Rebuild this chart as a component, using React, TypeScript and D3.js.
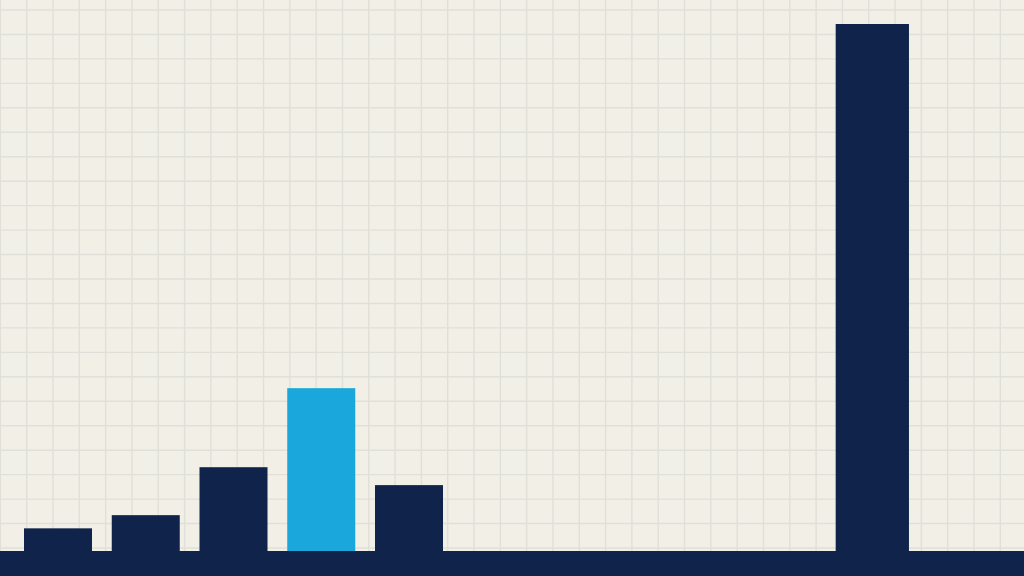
import React from "react";
import * as d3 from "d3";

// Data
const categories = ["P1", "P2", "P3", "P4", "P5", "P10"];
const periods = [0, 1, 2, 3, 4, 9.28];
const values = [4.3, 6.8, 15.9, 30.9, 12.5, 100];
const highlighted = ["P4"];

const W = 1024;
const H = 576;
const BASE = 551;

const NAVY = "#0f234b";
const BLUE = "#1aa8dc";
const PAPER = "#f2efe6";
const GRID = "#dfe0d9";

export default function App() {
  const step = 87.75;
  const x = d3.scaleLinear().domain([0, 1]).range([58, 58 + step]);
  const y = d3.scaleLinear().domain([0, 100]).range([BASE, 24]);

  const gx = d3.scaleLinear().domain([0, 37]).range([26.7, 1000.3]);
  const gy = d3.scaleLinear().domain([0, 22]).range([10, 548]);
  const vLines = d3.range(-1, 39).map((k) => gx(k)).filter((v) => v >= 0 && v <= W);
  const hLines = d3.range(-1, 24).map((k) => gy(k)).filter((v) => v >= 0 && v <= H);

  return (
    <div style={{ position: "absolute", left: 0, top: 0, width: W, height: H, overflow: "hidden" }}>
      <svg width={W} height={H} style={{ display: "block" }}>
        <rect x={0} y={0} width={W} height={H} fill={PAPER} />
        <g stroke={GRID} strokeWidth={1.4}>
          {vLines.map((v, i) => (
            <line key={"v" + i} x1={v} x2={v} y1={0} y2={H} />
          ))}
          {hLines.map((v, i) => (
            <line key={"h" + i} x1={0} x2={W} y1={v} y2={v} />
          ))}
        </g>
        <g>
          {categories.map((c, i) => {
            const last = i === categories.length - 1;
            const bw = last ? step * 0.835 : step * 0.775;
            const cx = x(periods[i]);
            return (
              <rect
                key={c}
                x={cx - bw / 2}
                y={y(values[i])}
                width={bw}
                height={y(0) - y(values[i]) + 1}
                fill={highlighted.includes(c) ? BLUE : NAVY}
              />
            );
          })}
        </g>
        <rect x={0} y={BASE} width={W} height={H - BASE} fill={NAVY} />
      </svg>
    </div>
  );
}
